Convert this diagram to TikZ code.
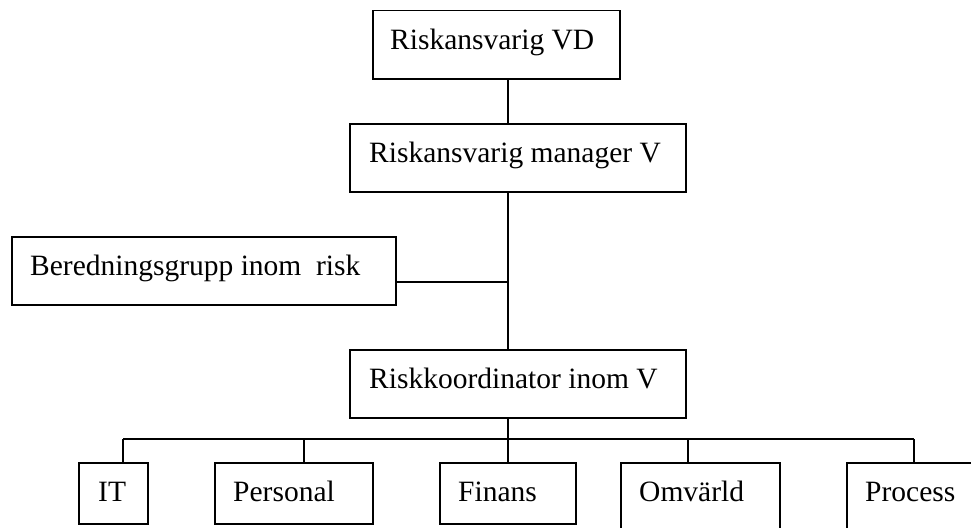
\documentclass[tikz,border=0pt]{standalone}
\usepackage{fontspec}
\setmainfont{Liberation Serif}
\begin{document}
\begin{tikzpicture}[x=1pt,y=-1pt,
  orgbox/.style={draw, line width=1.5pt, rectangle, anchor=north west,
    inner sep=0pt, minimum height=68pt},
  boxtext/.style={anchor=base west, inner sep=0pt,
    font=\fontsize{29.5}{34}\selectfont},
  link/.style={line width=1.5pt}]
\useasboundingbox (0,0) rectangle (971,527);
\clip (0,0) rectangle (971,527);

% chain of command
\node[orgbox, minimum width=247pt] (vd) at (372,10) {};
\node[orgbox, minimum width=336pt] (mgr) at (349,123) {};
\node[orgbox, minimum width=384pt] (bered) at (11,236) {};
\node[orgbox, minimum width=336pt] (koord) at (349,349) {};

% risk areas
\node[orgbox, minimum width=69pt, minimum height=61pt] (it) at (78,462) {};
\node[orgbox, minimum width=158pt, minimum height=61pt] (pers) at (214,462) {};
\node[orgbox, minimum width=136pt, minimum height=61pt] (fin) at (439,462) {};
\node[orgbox, minimum width=159pt, minimum height=80pt] (omv) at (620,462) {};
\node[orgbox, minimum width=150pt, minimum height=80pt] (proc) at (846,462) {};

% box captions, set on a common baseline inside each box
\path (vd.north west) ++(18,40) node[boxtext] (vd-t) {Riskansvarig VD};
\path (mgr.north west) ++(20,39) node[boxtext] (mgr-t) {Riskansvarig manager V};
\path (bered.north west) ++(19,39) node[boxtext] (bered-t) {Beredningsgrupp inom\ \ risk};
\path (koord.north west) ++(20,39) node[boxtext] (koord-t) {Riskkoordinator inom V};
\path (it.north west) ++(20,39) node[boxtext] (it-t) {IT};
\path (pers.north west) ++(19,39) node[boxtext] (pers-t) {Personal};
\path (fin.north west) ++(19,39) node[boxtext] (fin-t) {Finans};
\path (omv.north west) ++(19,39) node[boxtext] (omv-t) {Omvärld};
\path (proc.north west) ++(19,39) node[boxtext] (proc-t) {Process};

% trunk and bus
\coordinate (trunk) at (508,0);
\coordinate (bered-joint) at (508,282);
\coordinate (busL) at (123,439);
\coordinate (busR) at (914,439);
\coordinate (persTop) at (304,439);
\coordinate (omvTop) at (688,439);

\draw[link] (vd.south -| trunk) -- (mgr.north -| trunk);
\draw[link] (mgr.south -| trunk) -- (koord.north -| trunk);
\draw[link] (bered.east |- bered-joint) -- (bered-joint);
\draw[link] (koord.south -| trunk) -- (trunk |- busL);
\draw[link] (busL) -- (busR);
\draw[link] (busL) -- (busL |- it.north);
\draw[link] (persTop) -- (persTop |- pers.north);
\draw[link] (trunk |- busL) -- (trunk |- fin.north);
\draw[link] (omvTop) -- (omvTop |- omv.north);
\draw[link] (busR) -- (busR |- proc.north);
\end{tikzpicture}
\end{document}
